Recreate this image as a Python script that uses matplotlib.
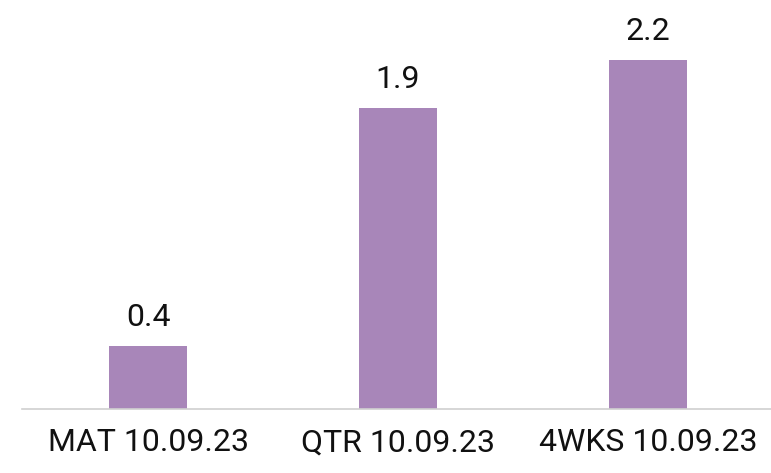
import matplotlib
matplotlib.use('Agg')
import matplotlib.pyplot as plt

categorias = ['MAT 10.09.23', 'QTR 10.09.23', '4WKS 10.09.23']
valores = [0.4, 1.9, 2.2]
etiquetas = ['0.4', '1.9', '2.2']

COLOR_BARRA = '#A886B9'

plt.rcParams['font.family'] = ['Roboto', 'DejaVu Sans']

fig = plt.figure(figsize=(7.71, 4.73), dpi=100)
ax = fig.add_axes([22 / 771, 64 / 473, 749 / 771, 409 / 473])

x = range(len(categorias))
barras = ax.bar(x, valores, width=0.312, color=COLOR_BARRA)

for xi, v, t in zip(x, valores, etiquetas):
    ax.annotate(t, (xi, v), xytext=(0, 14.4), textcoords='offset points',
                ha='center', va='baseline', fontsize=23, color='#111111')

ax.set_xlim(-0.504, 2.492)
ax.set_ylim(0, 2.58)
ax.set_xticks(list(x))
ax.set_xticklabels(categorias, fontsize=23, color='#111111')
ax.tick_params(axis='x', length=0, pad=14)
ax.set_yticks([])
for lado in ['top', 'right', 'left']:
    ax.spines[lado].set_visible(False)
ax.spines['bottom'].set_color('#D0D0D0')
ax.spines['bottom'].set_linewidth(1.2)

plt.savefig('out.png', dpi=100)
